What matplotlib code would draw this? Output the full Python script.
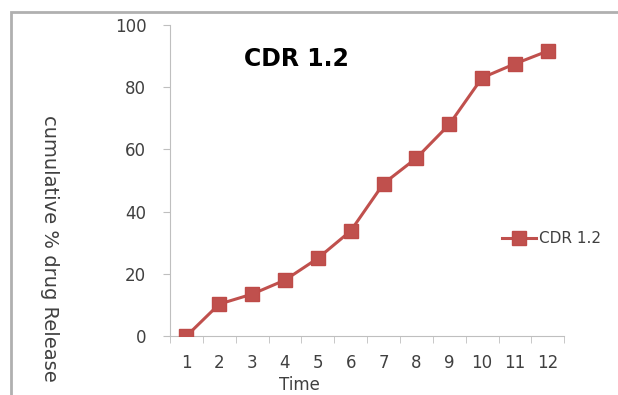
import matplotlib.pyplot as plt
import numpy as np
from matplotlib.patches import Rectangle

# data
time = [1, 2, 3, 4, 5, 6, 7, 8, 9, 10, 11, 12]
release = [0, 10.3, 13.5, 18, 25, 33.8, 49, 57.2, 68, 83, 87.5, 91.6]
series_name = "CDR 1.2"

fig = plt.figure(figsize=(6.18, 3.95), dpi=100)
fig.patches.append(Rectangle((0.018, -0.05), 1.2, 1.02, transform=fig.transFigure,
                             fill=False, edgecolor='#b0b0b0', linewidth=2.0))

ax = fig.add_axes([0.275, 0.149, 0.638, 0.788])
ax.plot(time, release, '-s', color='#C0504D', markersize=10, linewidth=2.2,
        markeredgecolor='#BE4B48', label=series_name)

ax.set_xlim(0.5, 12.5)
ax.set_ylim(0, 100)
ax.set_yticks(np.arange(0, 101, 20))
ax.set_xticks(time)
ax.set_xticks(np.arange(0.5, 12.6, 1), minor=True)

for side in ['top', 'right']:
    ax.spines[side].set_visible(False)
for side in ['left', 'bottom']:
    ax.spines[side].set_color('#bfbfbf')
ax.spines['bottom'].set_zorder(0)

ax.tick_params(axis='x', which='major', length=0, pad=13, labelsize=12, labelcolor='#404040')
ax.tick_params(axis='x', which='minor', length=5, color='#bfbfbf', direction='out')
ax.tick_params(axis='y', length=5, color='#bfbfbf', pad=12, labelsize=12, labelcolor='#404040')

ax.text(0.32, 0.89, series_name, transform=ax.transAxes, fontsize=17,
        fontweight='bold', ha='center', va='center')

fig.text(0.485, 0.003, "Time", fontsize=12, color='#404040', ha='center', va='bottom')
fig.text(0.08, 0.37, "cumulative % drug Release", fontsize=14, color='#404040',
         rotation=-90, ha='center', va='center')

fig.legend(loc='center left', bbox_to_anchor=(0.79, 0.395), frameon=False,
           fontsize=11, handlelength=2.2, handletextpad=0.2, labelcolor='#404040')

fig.savefig('out.png', dpi=100)
